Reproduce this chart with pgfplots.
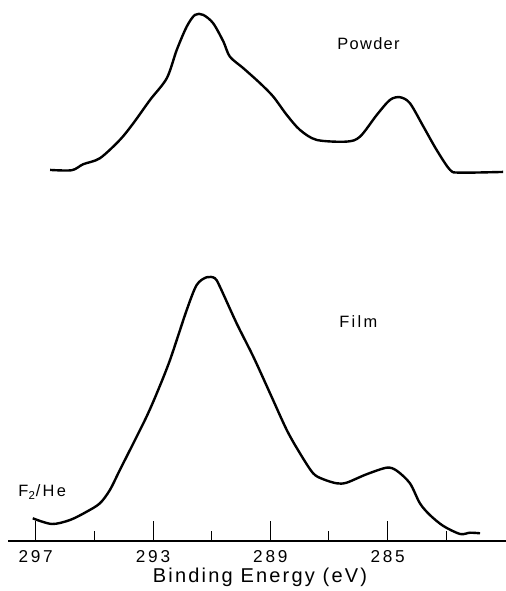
\documentclass[border=0pt]{standalone}
\usepackage{fontspec}
\setmainfont{Liberation Sans}
\newfontfamily\labfont[LetterSpace=11]{Liberation Sans}
\newfontfamily\tickfont[LetterSpace=16]{Liberation Sans}
\newfontfamily\annfont[LetterSpace=8]{Liberation Sans}
\newfontfamily\annfontb[LetterSpace=14]{Liberation Sans}
\usepackage{pgfplots}
\pgfplotsset{compat=1.18}
\begin{document}
\begin{tikzpicture}
\useasboundingbox (-4pt,-25pt) rectangle (249pt,270.5pt);
\begin{axis}[
  scale only axis, width=249pt, height=270.5pt,
  x dir=reverse, xmin=280.965, xmax=297.944, ymin=50, ymax=591,
  axis x line=bottom, axis y line=none,
  x axis line style={-, line width=0.7pt},
  xtick={297,293,289,285}, xticklabels={297,293,289,285},
  minor xtick={295,291,287,283},
  tick align=inside, major tick length=10pt, minor tick length=5pt,
  tick style={black, line width=0.5pt},
  /pgf/number format/assume math mode=true,
  xticklabel style={font=\tickfont\fontsize{8.6}{10}\selectfont, anchor=north, yshift=-1pt},
  xlabel={Binding Energy (eV)},
  xlabel style={font=\labfont\fontsize{10}{12}\selectfont, at={(axis description cs:0.5,0)}, anchor=center, yshift=-18pt, xshift=1.5pt},
  clip=false,
]
% Powder
\addplot[black, line width=1.2pt, smooth, tension=0.5] coordinates {
(296.51,421) (295.77,420.7) (295.38,426.7) (294.81,432.7) (294.13,451)
(293.67,467.7) (293.10,491) (292.53,512.7) (292.19,541) (291.85,564.3)
(291.57,576) (291.29,576) (290.95,567.7) (290.60,549.3) (290.38,534.3)
(289.92,522.7) (289.35,507.7) (288.90,494.3) (288.44,476) (287.99,461)
(287.42,451) (286.40,449.3) (285.94,454.3) (285.37,476) (284.92,491)
(284.58,493.7) (284.24,487.7) (283.78,464.3) (283.33,441) (282.87,421)
(282.53,418.3) (281.06,419)
};
% Film
\addplot[black, line width=1.2pt, smooth, tension=0.5] coordinates {
(297.10,72.7) (296.45,67) (295.83,71) (295.26,79.3) (294.81,87.7)
(294.47,101) (294.13,121) (293.67,147.7) (293.22,174.3) (292.87,197.7)
(292.42,231) (291.85,281)
(291.51,306) (291.17,313.7) (290.89,312.7) (290.72,304.3) (290.15,267.7)
(289.58,234.3) (289.01,197.7) (288.44,161) (287.99,137.7) (287.54,117.7)
(287.19,111.7) (286.74,107.7) (286.40,108.3) (285.72,116.7) (285.03,123.3)
(284.69,120.3) (284.24,107.7) (283.90,87.7) (283.56,76) (283.10,65)
(282.53,57) (282.19,58.3) (281.85,57.7)
};
\node[font=\annfont\fontsize{8.2}{9}\selectfont] at (axis cs:285.65,546.8) {Powder};
\node[font=\annfontb\fontsize{8.2}{9}\selectfont] at (axis cs:286.0,269.3) {Film};
\node[font=\annfontb\fontsize{8.2}{9}\selectfont, anchor=west, inner sep=0pt] at (axis cs:297.6,99) {F\textsubscript{2}/He};
\end{axis}
\end{tikzpicture}
\end{document}
